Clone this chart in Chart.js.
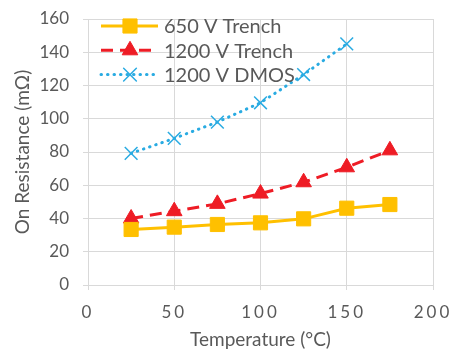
<!DOCTYPE html>
<html>
<head>
<meta charset="utf-8">
<script src="https://cdn.jsdelivr.net/npm/chart.js@4"></script>
<style>
  html, body { margin: 0; padding: 0; background: #fff; }
  #wrap { width: 450px; height: 351px; }
</style>
</head>
<body>
<div id="wrap"><canvas id="chart" width="450" height="351"></canvas></div>
<script>
  // temperatures in degC
  var temps = [25, 50, 75, 100, 125, 150, 175];
  var trench650 = [33.4, 34.8, 36.4, 37.4, 39.8, 46.2, 48.4];
  var trench1200 = [40, 44.4, 48.8, 55, 61.8, 70.8, 81];
  var dmos1200 = [79.2, 88.2, 98, 109.6, 126.6, 145];
  var names = ['650 V Trench', '1200 V Trench', '1200 V DMOS'];
  var xTicks = [0, 50, 100, 150, 200];
  var yTicks = [0, 20, 40, 60, 80, 100, 120, 140, 160];

  var gray = '#595959';
  var gridGray = '#d9d9d9';
  var FONT = 'Lato, "Open Sans", sans-serif';

  function pts(values) {
    return values.map(function (v, i) { return { x: temps[i], y: v }; });
  }

  var data = {
    datasets: [{
      label: names[0],
      data: pts(trench650),
      borderColor: '#FFC000',
      backgroundColor: '#FFC000',
      borderWidth: 3,
      pointStyle: 'rect',
      pointRadius: 10,
      pointBorderWidth: 1,
      tension: 0
    }, {
      label: names[1],
      data: pts(trench1200),
      borderColor: '#EE1C25',
      backgroundColor: '#EE1C25',
      borderWidth: 3,
      borderDash: [12, 7],
      pointStyle: 'triangle',
      pointRadius: 9,
      pointBorderWidth: 1,
      tension: 0
    }, {
      label: names[2],
      data: pts(dmos1200),
      borderColor: '#29ABE2',
      backgroundColor: '#29ABE2',
      borderWidth: 3,
      borderDash: [0.5, 6],
      borderCapStyle: 'round',
      pointStyle: 'cross',
      pointRotation: 45,
      pointRadius: 9,
      pointBorderWidth: 1.5,
      tension: 0
    }]
  };

  // legend drawn inside the plot, line + marker like the original
  var insideLegend = {
    id: 'insideLegend',
    beforeDraw: function (chart) {
      // wider letter spacing on the x tick labels
      var sx = chart.scales.x;
      if (!sx._spaced) {
        var orig = sx.drawLabels.bind(sx);
        sx.drawLabels = function (area) {
          chart.ctx.save();
          chart.ctx.letterSpacing = '3px';
          orig(area);
          chart.ctx.restore();
        };
        sx._spaced = true;
      }
    },
    afterDatasetsDraw: function (chart) {
      var ctx = chart.ctx;
      chart.data.datasets.forEach(function (ds, i) {
        var y = 26 + i * 24.3;
        ctx.save();
        ctx.strokeStyle = ds.borderColor;
        ctx.lineWidth = ds.borderWidth;
        ctx.lineCap = ds.borderCapStyle || 'butt';
        ctx.setLineDash(ds.borderDash || []);
        ctx.beginPath();
        ctx.moveTo(101, y);
        ctx.lineTo(158, y);
        ctx.stroke();
        ctx.setLineDash([]);
        ctx.fillStyle = ds.backgroundColor;
        ctx.lineWidth = ds.pointBorderWidth;
        Chart.helpers.drawPoint(ctx, {
          pointStyle: ds.pointStyle,
          radius: ds.pointRadius,
          rotation: ds.pointRotation || 0,
          borderWidth: ds.pointBorderWidth
        }, 130, y);
        ctx.fillStyle = gray;
        ctx.font = '20px ' + FONT;
        ctx.textBaseline = 'middle';
        ctx.fillText(ds.label, 164, y + 1);
        ctx.restore();
      });
    }
  };

  var config = {
    type: 'line',
    data: data,
    options: {
      responsive: false,
      animation: false,
      layout: { padding: { left: 0, right: 17, top: 19, bottom: 0 } },
      plugins: {
        legend: { display: false },
        tooltip: { enabled: false }
      },
      scales: {
        x: {
          type: 'linear',
          min: 0,
          max: 200,
          afterBuildTicks: function (axis) {
            axis.ticks = xTicks.map(function (v) { return { value: v }; });
          },
          afterFit: function (axis) {
            axis.height = 66;
            axis.paddingLeft = 0;
            axis.paddingRight = 0;
          },
          grid: { color: gridGray, lineWidth: 1, tickLength: 5 },
          border: { color: gridGray },
          ticks: {
            color: gray,
            font: { size: 17, family: FONT },
            padding: 12,
            maxRotation: 0
          },
          title: {
            display: true,
            text: 'Temperature (°C)',
            color: gray,
            font: { size: 19, family: FONT },
            padding: { top: 0, bottom: 0 }
          }
        },
        y: {
          min: 0,
          max: 160,
          afterBuildTicks: function (axis) {
            axis.ticks = yTicks.map(function (v) { return { value: v }; });
          },
          afterFit: function (axis) {
            axis.width = 88;
            axis.paddingTop = 0;
            axis.paddingBottom = 0;
          },
          grid: { color: gridGray, lineWidth: 1, tickLength: 5 },
          border: { color: gridGray },
          ticks: {
            color: gray,
            font: { size: 17, family: FONT },
            padding: 14
          },
          title: {
            display: true,
            text: 'On Resistance (mΩ)',
            color: gray,
            font: { size: 19, family: FONT },
            padding: { top: 11, bottom: 0 }
          }
        }
      }
    },
    plugins: [insideLegend]
  };

  var chart = new Chart(document.getElementById('chart'), config);
</script>
</body>
</html>
